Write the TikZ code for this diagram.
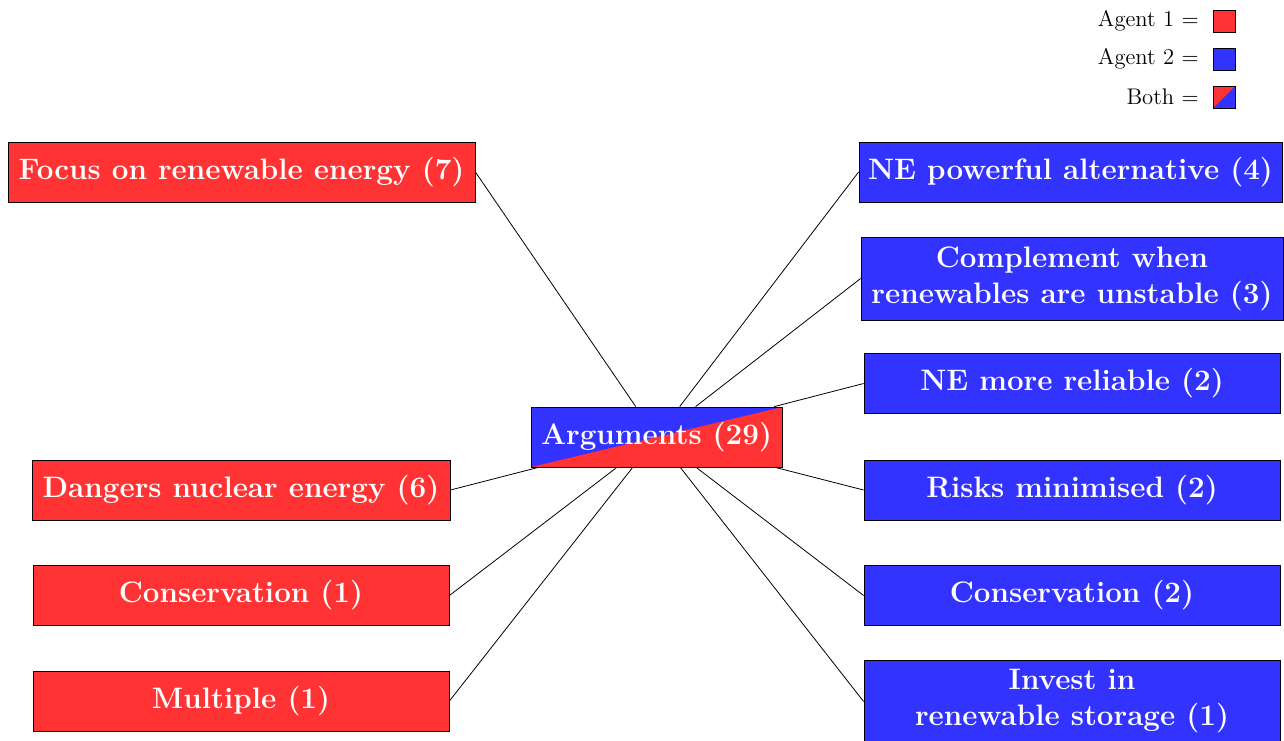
\documentclass[tikz,border=0pt]{standalone}
\definecolor{ared}{RGB}{255,51,51}
\definecolor{ablue}{RGB}{51,51,255}
\begin{document}
\begin{tikzpicture}[x=0.5pt,y=-0.5pt,
  argbox/.style={draw=black, text=white, font=\fontsize{14.8}{18}\selectfont\bfseries, inner sep=0pt,
    align=center, minimum height=30pt},
  redbox/.style={argbox, fill=ared},
  bluebox/.style={argbox, fill=ablue},
  splitbox/.style={argbox, fill=ared, path picture={
    \fill[ablue] (path picture bounding box.south west) --
      (path picture bounding box.north east) --
      (path picture bounding box.north west) -- cycle;}},
  keybox/.style={draw=black, inner sep=0pt, minimum size=11pt},
  keytext/.style={anchor=east, inner sep=0pt, font=\fontsize{11.3}{13}\selectfont},
  link/.style={draw=black, line width=0.4pt}]
\useasboundingbox (0,0) rectangle (1284,740);

% legend
\node[keytext] (k1) at (1199,21) {Agent 1 $=$};
\node[keybox, fill=ared] (s1) at (1224,21) {};
\node[keytext] (k2) at (1199,59) {Agent 2 $=$};
\node[keybox, fill=ablue] (s2) at (1224,59) {};
\node[keytext] (k3) at (1199,97) {Both $=$};
\node[keybox, fill=ablue, path picture={
    \fill[ared] (path picture bounding box.south west) --
      (path picture bounding box.north east) --
      (path picture bounding box.north west) -- cycle;}] (s3) at (1224,97) {};

% central node
\node[splitbox, minimum width=125.5pt] (arg) at (656.5,437) {Arguments (29)};

% agent 1 arguments
\node[redbox, minimum width=233.5pt] (focus) at (241.5,172) {Focus on renewable energy (7)};
\node[redbox, minimum width=209pt] (danger) at (241,490) {Dangers nuclear energy (6)};
\node[redbox, minimum width=208pt] (cons1) at (241,595.5) {Conservation (1)};
\node[redbox, minimum width=208pt] (multi) at (241,701) {Multiple (1)};

% agent 2 arguments
\node[bluebox, minimum width=211.5pt] (power) at (1070.5,172) {NE powerful alternative (4)};
\node[bluebox, minimum width=211pt, minimum height=41.5pt] (compl) at (1072,278.5) {Complement when\\renewables are unstable (3)};
\node[bluebox, minimum width=208pt] (reli) at (1072,383.5) {NE more reliable (2)};
\node[bluebox, minimum width=208pt] (risk) at (1072,490) {Risks minimised (2)};
\node[bluebox, minimum width=208pt] (cons2) at (1072,595.5) {Conservation (2)};
\node[bluebox, minimum width=208pt, minimum height=41.5pt] (invest) at (1072,701.5) {Invest in\\renewable storage (1)};

% connectors
\foreach \n in {focus,danger,cons1,multi}
  \draw[link] (\n.east) -- (arg);
\foreach \n in {power,compl,reli,risk,cons2,invest}
  \draw[link] (\n.west) -- (arg);
\end{tikzpicture}
\end{document}
